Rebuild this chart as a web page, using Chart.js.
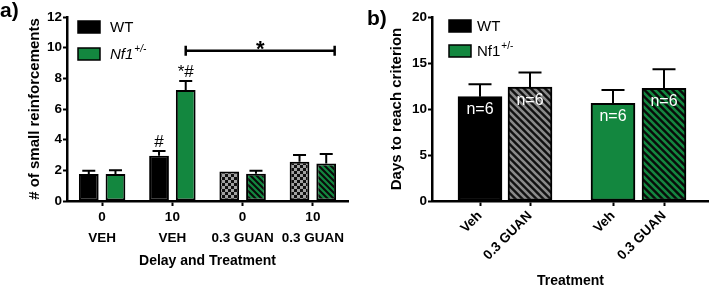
<!DOCTYPE html>
<html><head><meta charset="utf-8">
<script src="https://cdn.jsdelivr.net/npm/chart.js@4/dist/chart.umd.min.js"></script>
<style>
html,body{margin:0;padding:0;background:#fff;width:709px;height:287px;overflow:hidden}
canvas{position:absolute;top:0}
#ca{left:0}
#cb{left:355px}
</style></head><body>
<canvas id="ca" width="355" height="287"></canvas>
<canvas id="cb" width="354" height="287"></canvas>
<script>
// ---------- Panel a data ----------
const delayLabels = [["0","VEH"],["10","VEH"],["0","0.3 GUAN"],["10","0.3 GUAN"]];
const wtSmall = [1.76, 2.95, 1.93, 2.56];
const wtSmallErr = [0.22, 0.31, 0, 0.44];
const nf1Small = [1.76, 7.24, 1.78, 2.45];
const nf1SmallErr = [0.24, 0.59, 0.2, 0.62];
const wtMarks = ["", "#", "", ""];
const nf1Marks = ["", "*#", "", ""];
const sigLevel = 9.8;
// ---------- Panel b data ----------
const treatLabels = ["Veh","0.3 GUAN","Veh","0.3 GUAN"];
const treatSlots = [0.96, 1.96, 3.62, 4.64];
const wtDays = [11.34, 12.37];
const wtDaysErr = [1.36, 1.59];
const nf1Days = [10.62, 12.26];
const nf1DaysErr = [1.45, 2.07];
const nLabels = ["n=6","n=6"];

const GREEN = '#13873f';
const FONT = "'Liberation Sans', Arial, Helvetica, sans-serif";
Chart.defaults.font.family = FONT;
Chart.defaults.color = '#000';

function tile(size){const c=document.createElement('canvas');c.width=c.height=size;return c;}
function stripes(bg, fg, size, w){
  const c=tile(size), x=c.getContext('2d');
  x.fillStyle=bg; x.fillRect(0,0,size,size);
  x.strokeStyle=fg; x.lineWidth=w; x.beginPath();
  for(let k=-1;k<=1;k++){ x.moveTo(k*size-1,-1); x.lineTo(k*size+size+1,size+1); }
  x.stroke();
  return x.createPattern(c,'repeat');
}
function checker(a,b,s){
  const c=tile(2*s), x=c.getContext('2d');
  x.fillStyle=a; x.fillRect(0,0,2*s,2*s);
  x.fillStyle=b; x.fillRect(0,0,s,s); x.fillRect(s,s,s,s);
  return x.createPattern(c,'repeat');
}
const ctxA = document.getElementById('ca').getContext('2d');
const ctxB = document.getElementById('cb').getContext('2d');
const chkA = checker('#111', '#a3a3a3', 3);
const grStripeA = stripes('#0a0a0a', GREEN, 6, 2.2);
const grayStripeB = stripes('#111', '#8a8a8a', 7, 2.6);
const grStripeB = stripes('#0a0a0a', GREEN, 7, 2.6);

const errPlugin = {
  id:'errbars',
  afterDatasetsDraw(chart, args, o){
    const {ctx} = chart; const ys = chart.scales.y;
    chart.data.datasets.forEach((ds,i)=>{
      const meta = chart.getDatasetMeta(i);
      meta.data.forEach((el,j)=>{
        const e = ds.errors ? ds.errors[j] : 0;
        const raw = ds.data[j]; const v = typeof raw==='object' ? raw.y : raw;
        const top = ys.getPixelForValue(v+(e||0));
        ctx.save();
        if(e){
          ctx.strokeStyle='#000'; ctx.lineWidth=o.lw; ctx.beginPath();
          ctx.moveTo(el.x, el.y); ctx.lineTo(el.x, top);
          ctx.moveTo(el.x-o.cap/2, top); ctx.lineTo(el.x+o.cap/2, top); ctx.stroke();
        }
        if(ds.marks && ds.marks[j]){
          ctx.fillStyle='#000'; ctx.font='17px '+FONT; ctx.textAlign='center'; ctx.textBaseline='alphabetic';
          ctx.fillText(ds.marks[j], el.x, top-4);
        }
        if(ds.inner && ds.inner[j]){
          ctx.fillStyle='#fff'; ctx.font='16px '+FONT; ctx.textAlign='center'; ctx.textBaseline='middle';
          ctx.fillText(ds.inner[j], el.x, el.y+13);
        }
        ctx.restore();
      });
    });
  }
};
const legendPlugin = {
  id:'boxlegend',
  afterDraw(chart, args, o){
    const {ctx, chartArea} = chart;
    ctx.save();
    o.items.forEach((it,k)=>{
      const bx = chartArea.left + o.dx, by = chartArea.top + o.dy[k];
      ctx.fillStyle = it.fill; ctx.fillRect(bx, by, 22, 12);
      ctx.strokeStyle='#000'; ctx.lineWidth=1.5; ctx.strokeRect(bx, by, 22, 12);
      ctx.fillStyle='#000'; ctx.textBaseline='middle'; ctx.textAlign='left';
      ctx.font = (it.italic?'italic ':'') + '15px ' + FONT;
      const tx = bx + 22 + o.gap;
      ctx.fillText(it.text, tx, by+6.5);
      if(it.sup){
        const w = ctx.measureText(it.text).width;
        ctx.font = (it.italic?'italic ':'') + '10px ' + FONT;
        ctx.fillText(it.sup, tx+w+1, by+1);
      }
    });
    ctx.font='bold 21px '+FONT; ctx.textBaseline='middle'; ctx.textAlign='left';
    ctx.fillText(o.panel, o.px, o.py);
    ctx.restore();
  }
};
const sigPlugin = {
  id:'sig',
  afterDraw(chart, args, o){
    if(!o.span) return;
    const {ctx} = chart; const xs = chart.scales.x, ys = chart.scales.y;
    const x1 = xs.getPixelForValue(o.span[0]), x2 = xs.getPixelForValue(o.span[1]);
    const y = ys.getPixelForValue(o.level);
    ctx.save(); ctx.strokeStyle='#000'; ctx.lineWidth=2.5; ctx.beginPath();
    ctx.moveTo(x1,y); ctx.lineTo(x2,y);
    ctx.moveTo(x1,y-5); ctx.lineTo(x1,y+5); ctx.moveTo(x2,y-5); ctx.lineTo(x2,y+5); ctx.stroke();
    ctx.fillStyle='#000'; ctx.font='bold 22px '+FONT; ctx.textAlign='center'; ctx.textBaseline='alphabetic';
    ctx.fillText('*', (x1+x2)/2, y+5);
    ctx.restore();
  }
};

const axisCommon = {
  border:{display:true,color:'#000',width:2.5},
  grid:{display:true,drawOnChartArea:false,drawTicks:true,tickLength:5,tickColor:'#000',tickWidth:2,color:'#000',offset:false}
};

new Chart(ctxA, {
  type:'bar',
  data:{labels:delayLabels, datasets:[
    {label:'WT', data:wtSmall, errors:wtSmallErr, marks:wtMarks,
     backgroundColor:['#000','#000',chkA,chkA], borderColor:'#000', borderWidth:2, borderSkipped:false},
    {label:'Nf1+/-', data:nf1Small, errors:nf1SmallErr, marks:nf1Marks,
     backgroundColor:[GREEN,GREEN,grStripeA,grStripeA], borderColor:'#000', borderWidth:2, borderSkipped:false}
  ]},
  options:{
    responsive:false, animation:false,
    layout:{padding:{top:17,right:7,bottom:0,left:0}},
    categoryPercentage:0.76, barPercentage:0.74,
    plugins:{legend:{display:false},tooltip:{enabled:false},
      errbars:{lw:2,cap:13},
      sig:{span:[1.19,3.31], level:sigLevel},
      boxlegend:{dx:11, dy:[4,31], gap:10, panel:'a)', px:0, py:11,
        items:[{text:'WT',fill:'#000'},{text:'Nf1',sup:'+/-',italic:true,fill:GREEN}]}
    },
    scales:{
      x:{...axisCommon,
        afterFit(s){s.height=86;},
        ticks:{font:{size:13.5,weight:'bold',lineHeight:1.55},color:'#000',padding:1,maxRotation:0,autoSkip:false},
        title:{display:true,text:'Delay and Treatment',font:{size:14,weight:'bold'},color:'#000',padding:{top:0,bottom:17}}
      },
      y:{...axisCommon, grid:{...axisCommon.grid,tickLength:4},
        min:0,max:12,
        afterFit(s){s.width=67;},
        ticks:{stepSize:2,font:{size:13.5,weight:'bold'},color:'#000',padding:1},
        title:{display:true,text:'# of small reinforcements',font:{size:15,weight:'bold'},color:'#000',padding:{top:26,bottom:0}}
      }
    }
  },
  plugins:[errPlugin,legendPlugin,sigPlugin]
});

new Chart(ctxB, {
  type:'bar',
  data:{datasets:[
    {label:'WT', data:wtDays.map((v,i)=>({x:treatSlots[i],y:v})), errors:wtDaysErr, inner:nLabels,
     backgroundColor:['#000',grayStripeB], borderColor:'#000', borderWidth:2, borderSkipped:false},
    {label:'Nf1+/-', data:nf1Days.map((v,i)=>({x:treatSlots[i+2],y:v})), errors:nf1DaysErr, inner:nLabels,
     backgroundColor:[GREEN,grStripeB], borderColor:'#000', borderWidth:2, borderSkipped:false}
  ]},
  options:{
    responsive:false, animation:false,
    layout:{padding:{top:17,right:0,bottom:0,left:0}},
    datasets:{bar:{grouped:false, barThickness:44}},
    plugins:{legend:{display:false},tooltip:{enabled:false},
      errbars:{lw:2,cap:23},
      sig:{},
      boxlegend:{dx:17, dy:[3,28], gap:6, panel:'b)', px:12, py:19,
        items:[{text:'WT',fill:'#000'},{text:'Nf1',sup:'+/-',italic:false,fill:GREEN}]}
    },
    scales:{
      x:{...axisCommon, type:'linear', min:0, max:5.54, offset:false,
        afterBuildTicks(s){ s.ticks = treatSlots.map(v=>({value:v})); },
        afterFit(s){s.height=86;},
        ticks:{callback:(v,i)=>treatLabels[i], font:{size:13.5,weight:'bold'},color:'#000',
          minRotation:45,maxRotation:45,autoSkip:false,padding:2},
        title:{display:true,text:'Treatment',font:{size:14,weight:'bold'},color:'#000',padding:{top:0,bottom:-3}}
      },
      y:{...axisCommon, grid:{...axisCommon.grid,tickLength:4},
        min:0,max:20,
        afterFit(s){s.width=77;},
        ticks:{stepSize:5,font:{size:13.5,weight:'bold'},color:'#000',padding:1},
        title:{display:true,text:'Days to reach criterion',font:{size:15,weight:'bold'},color:'#000',padding:{top:33,bottom:0}}
      }
    }
  },
  plugins:[errPlugin,legendPlugin,sigPlugin]
});
</script>
</body></html>
